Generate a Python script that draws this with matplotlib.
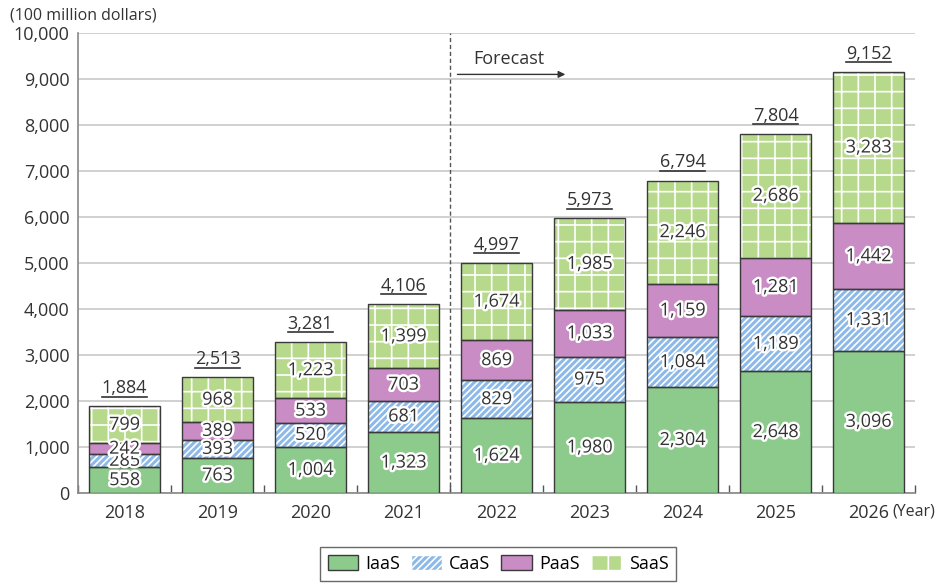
import matplotlib
matplotlib.use("Agg")
import matplotlib.pyplot as plt
import matplotlib.patheffects as pe
from matplotlib.lines import Line2D
import numpy as np

plt.rcParams['font.family'] = ['Open Sans', 'DejaVu Sans']
plt.rcParams['hatch.linewidth'] = 1.2

years = ['2018', '2019', '2020', '2021', '2022', '2023', '2024', '2025', '2026']
iaas = [558, 763, 1004, 1323, 1624, 1980, 2304, 2648, 3096]
caas = [285, 393, 520, 681, 829, 975, 1084, 1189, 1331]
paas = [242, 389, 533, 703, 869, 1033, 1159, 1281, 1442]
saas = [799, 968, 1223, 1399, 1674, 1985, 2246, 2686, 3283]
totals = [1884, 2513, 3281, 4106, 4997, 5973, 6794, 7804, 9152]
series_names = ['IaaS', 'CaaS', 'PaaS', 'SaaS']
yticks = [0, 1000, 2000, 3000, 4000, 5000, 6000, 7000, 8000, 9000, 10000]

colors = ['#8ccb8c', '#8db9e9', '#c98cc4', '#b6d98b']
hatches = [None, '/////', None, '+']

fig = plt.figure(figsize=(9.36, 5.86), dpi=100)
ax = fig.add_axes([78/936, 1-493/586, (915-78)/936, (493-33)/586])

x = np.arange(len(years))
bottom = np.zeros(len(years))
series = [iaas, caas, paas, saas]
for vals, c, h, name in zip(series, colors, hatches, series_names):
    ax.bar(x, vals, width=0.77, bottom=bottom, color=c, edgecolor='white' if h else '#404040',
           hatch=h, linewidth=0, label=name, zorder=3)
    ax.bar(x, vals, width=0.77, bottom=bottom, facecolor='none', edgecolor='#3a3a3a', linewidth=1.0, zorder=4)
    for xi, b, v in zip(x, bottom, vals):
        ax.text(xi, b + v/2, f'{v:,}', ha='center', va='center', fontsize=13, color='#333333', zorder=6,
                path_effects=[pe.withStroke(linewidth=3.5, foreground='white')])
    bottom += np.array(vals)

tot_texts = []
for xi, t in zip(x, totals):
    tt = ax.text(xi, t + 200, f'{t:,}', ha='center', va='bottom', fontsize=13, color='#333333', zorder=6)
    tot_texts.append(tt)

ax.set_xlim(-0.5, len(years) - 0.5)
ax.set_ylim(0, 10000)
ax.set_yticks(yticks)
ax.set_yticklabels([f'{v:,}' for v in yticks], fontsize=13, color='#333333')
ax.set_xticks(x)
ax.set_xticklabels(years, fontsize=13, color='#333333')
ax.tick_params(axis='x', length=0, pad=8)
ax.tick_params(axis='y', length=0, pad=6)
ax.set_xticks(np.arange(-0.5, len(years) + 0.5, 1), minor=True)
ax.tick_params(axis='x', which='minor', direction='in', length=6, color='#555555', width=1)
ax.yaxis.grid(True, color='#c8c8c8', linewidth=1.2, zorder=0)
ax.set_axisbelow(True)
for s in ['top', 'right']:
    ax.spines[s].set_visible(False)
ax.spines['left'].set_color('#888888')
ax.spines['bottom'].set_color('#888888')
ax.spines['left'].set_linewidth(1.2)
ax.spines['bottom'].set_linewidth(1.2)

# forecast divider
ax.axvline(3.5, color='#555555', linestyle=(0, (3, 2)), linewidth=1, zorder=2)
ax.annotate('', xy=(4.77, 9100), xytext=(3.55, 9100),
            arrowprops=dict(arrowstyle='-|>', color='#333333', lw=1, mutation_scale=10))
ax.text(4.13, 9250, 'Forecast', ha='center', va='bottom', fontsize=13, color='#333333')

fig.text(10/936, 1-15/586, '(100 million dollars)', fontsize=11.5, color='#333333', va='center', ha='left')
fig.text(935/936, 1-512/586, '(Year)', fontsize=11.5, color='#333333', va='center', ha='right')

leg = fig.legend(loc='center', bbox_to_anchor=(498/936, 1-564/586), ncol=4, fontsize=13,
                 frameon=True, fancybox=False, edgecolor='#444444', handlelength=1.7, handleheight=0.9,
                 columnspacing=0.6, handletextpad=0.4, borderpad=0.45)
leg.get_frame().set_linewidth(1.0)
for h in leg.legend_handles:
    h.set_edgecolor('#3a3a3a')
    h.set_linewidth(1.0)
leg.legend_handles[1].set_edgecolor('white')
leg.legend_handles[3].set_edgecolor('white')
leg.legend_handles[3].set_hatch('|')

# underline totals
fig.canvas.draw()
r = fig.canvas.get_renderer()
for tt in tot_texts:
    bb = tt.get_window_extent(r)
    y = bb.y0 + 0.5
    fig.add_artist(Line2D([bb.x0 / fig.bbox.width, bb.x1 / fig.bbox.width],
                          [y / fig.bbox.height, y / fig.bbox.height],
                          transform=fig.transFigure, color='#333333', linewidth=1.2))

fig.savefig('out.png', dpi=100)
